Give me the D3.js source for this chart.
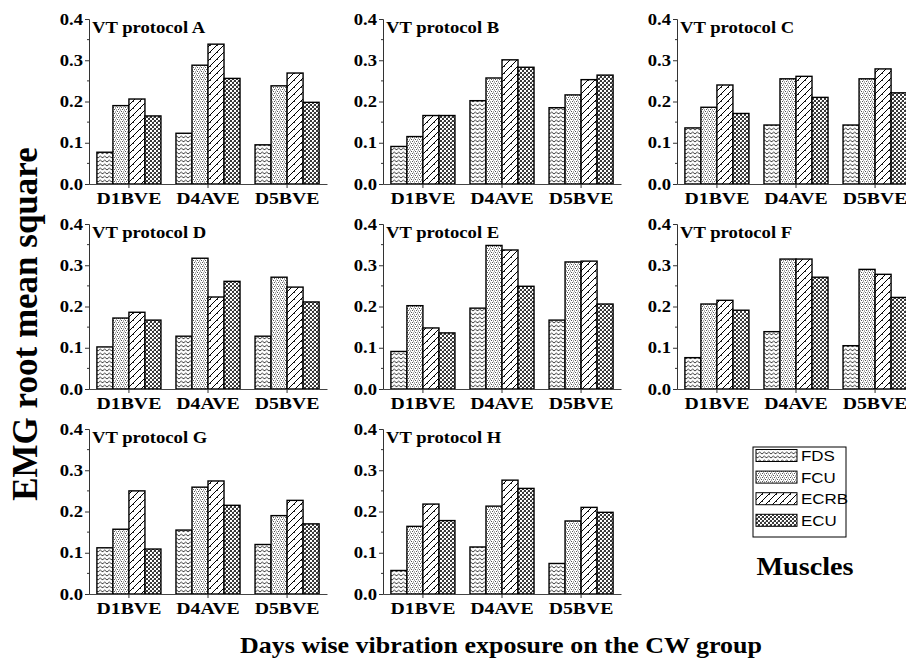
<!DOCTYPE html>
<html>
<head>
<meta charset="utf-8">
<script src="https://cdn.jsdelivr.net/npm/d3@7"></script>
<style>
  body { margin: 0; background: #fff; }
  svg { display: block; background: #fff; }
  .serif { font-family: 'Liberation Serif', 'Times New Roman', serif; font-weight: bold; fill: #000; }
  .sans { font-family: 'Liberation Sans', Arial, sans-serif; fill: #000; }
</style>
</head>
<body>
<svg width="906" height="666"></svg>
<script>
// categories
const groups = ['D1BVE', 'D4AVE', 'D5BVE'];
const muscles = ['FDS', 'FCU', 'ECRB', 'ECU'];
const yTicks = [0, 0.1, 0.2, 0.3, 0.4];

// values per protocol: [D1BVE, D4AVE, D5BVE], each [FDS, FCU, ECRB, ECU]
const protocolA = [[0.077, 0.190, 0.206, 0.165], [0.123, 0.288, 0.339, 0.256], [0.095, 0.238, 0.269, 0.198]];
const protocolB = [[0.091, 0.115, 0.166, 0.166], [0.202, 0.257, 0.301, 0.283], [0.185, 0.216, 0.253, 0.264]];
const protocolC = [[0.136, 0.186, 0.240, 0.171], [0.143, 0.255, 0.261, 0.210], [0.143, 0.255, 0.279, 0.221]];
const protocolD = [[0.102, 0.172, 0.186, 0.167], [0.128, 0.317, 0.223, 0.261], [0.128, 0.271, 0.247, 0.211]];
const protocolE = [[0.091, 0.202, 0.148, 0.136], [0.196, 0.348, 0.337, 0.249], [0.167, 0.308, 0.310, 0.206]];
const protocolF = [[0.076, 0.206, 0.215, 0.191], [0.139, 0.315, 0.315, 0.271], [0.105, 0.290, 0.278, 0.222]];
const protocolG = [[0.112, 0.157, 0.250, 0.109], [0.155, 0.259, 0.274, 0.215], [0.120, 0.190, 0.227, 0.170]];
const protocolH = [[0.057, 0.164, 0.218, 0.178], [0.114, 0.213, 0.276, 0.256], [0.074, 0.177, 0.210, 0.198]];

const panels = [
  { name: 'VT protocol A', values: protocolA },
  { name: 'VT protocol B', values: protocolB },
  { name: 'VT protocol C', values: protocolC },
  { name: 'VT protocol D', values: protocolD },
  { name: 'VT protocol E', values: protocolE },
  { name: 'VT protocol F', values: protocolF },
  { name: 'VT protocol G', values: protocolG },
  { name: 'VT protocol H', values: protocolH }
];

const svg = d3.select('svg');
const sx = 1.13; // the original is stretched horizontally a bit

// patterns
const defs = svg.append('defs');
const pat = (id, w, h) => defs.append('pattern')
  .attr('id', id).attr('patternUnits', 'userSpaceOnUse')
  .attr('width', w).attr('height', h);

// FDS: horizontal zigzag
const pFDS = pat('pFDS', 4.5, 4);
pFDS.append('rect').attr('width', 4.5).attr('height', 4).attr('fill', '#fff');
pFDS.append('path').attr('d', 'M0,3 L2.25,1 L4.5,3').attr('fill', 'none').attr('stroke', '#111').attr('stroke-width', 0.8);

// FCU: dots
const pFCU = pat('pFCU', 4, 4);
pFCU.append('rect').attr('width', 4).attr('height', 4).attr('fill', '#fff');
[[0, 0], [2, 0.5], [1, 2], [3, 2.5]].forEach(([a, b]) =>
  pFCU.append('rect').attr('x', a).attr('y', b).attr('width', 1).attr('height', 1).attr('fill', '#555'));

// ECRB: diagonal lines
const pECRB = pat('pECRB', 7, 7);
pECRB.append('rect').attr('width', 7).attr('height', 7).attr('fill', '#fff');
pECRB.append('path').attr('d', 'M-1,8 L8,-1 M-1,1 L1,-1 M6,8 L8,6').attr('stroke', '#000').attr('stroke-width', 1);
pECRB.append('path').attr('d', 'M2,5 L3,6').attr('stroke', '#000').attr('stroke-width', 0.8);

// ECU: herringbone, darker grey
const pECU = pat('pECU', 4, 4);
pECU.append('rect').attr('width', 4).attr('height', 4).attr('fill', '#fff');
pECU.append('path').attr('d', 'M0,0 L2,2 L4,0 M0,4 L2,2 L4,4').attr('fill', 'none').attr('stroke', '#222').attr('stroke-width', 0.9);
pECU.append('path').attr('d', 'M0,2 L1,3').attr('fill', 'none').attr('stroke', '#666').attr('stroke-width', 0.5);

const fills = { FDS: 'url(#pFDS)', FCU: 'url(#pFCU)', ECRB: 'url(#pECRB)', ECU: 'url(#pECU)' };

// layout
const colX = [89, 383, 677];
const rowY = [19, 224, 429];
const pw = 238, ph = 165;

const x0 = d3.scaleBand().domain(groups).range([0, pw]).paddingInner(0.19).paddingOuter(0.1);
const x1 = d3.scaleBand().domain(muscles).range([0, x0.bandwidth()]);
const y = d3.scaleLinear().domain([0, 0.4]).range([ph, 0]);

const stext = (sel, x, yy, txt, size, anchor, cls) => sel.append('text')
  .attr('class', cls || 'serif')
  .attr('transform', `translate(${x},${yy}) scale(${sx},1)`)
  .attr('text-anchor', anchor || 'start')
  .attr('font-size', size)
  .text(txt);

panels.forEach((p, i) => {
  const g = svg.append('g')
    .attr('transform', `translate(${colX[i % 3]},${rowY[Math.floor(i / 3)]})`);

  // bars
  groups.forEach((grp, gi) => {
    g.selectAll(null).data(p.values[gi]).enter().append('rect')
      .attr('x', (d, mi) => x0(grp) + x1(muscles[mi]))
      .attr('y', d => y(d))
      .attr('width', x1.bandwidth())
      .attr('height', d => ph - y(d))
      .attr('fill', (d, mi) => fills[muscles[mi]])
      .attr('stroke', '#000')
      .attr('stroke-width', 1.4);
  });

  // y axis
  const yAxis = d3.axisLeft(y).tickValues(yTicks).tickFormat(d3.format('.1f')).tickSize(4).tickPadding(4);
  const yG = g.append('g').call(yAxis);
  yG.select('.domain').attr('stroke', '#333');
  yG.selectAll('.tick line').attr('stroke', '#333');
  yG.selectAll('.tick text').remove();
  yTicks.forEach(t => stext(g, -6, y(t) + 5.7, d3.format('.1f')(t), 16.5, 'end'));
  // minor ticks
  g.selectAll(null).data([0.05, 0.15, 0.25, 0.35]).enter().append('line')
    .attr('x1', -2).attr('x2', 0)
    .attr('y1', d => y(d)).attr('y2', d => y(d))
    .attr('stroke', '#333');

  // x axis
  const xAxis = d3.axisBottom(x0).tickSize(4).tickSizeOuter(0);
  const xG = g.append('g').attr('transform', `translate(0,${ph})`).call(xAxis);
  xG.select('.domain').attr('stroke', '#444');
  xG.selectAll('.tick line').attr('stroke', '#333');
  xG.selectAll('.tick text').remove();
  groups.forEach(grp => stext(g, x0(grp) + x0.bandwidth() / 2, ph + 20, grp, 17.5, 'middle'));

  // title
  stext(g, 3, 14, p.name, 16.5, 'start');
});

// legend
const lg = svg.append('g').attr('transform', 'translate(753,447)');
lg.append('rect').attr('width', 93).attr('height', 90)
  .attr('fill', '#fff').attr('stroke', '#000').attr('stroke-width', 1);
muscles.forEach((m, i) => {
  lg.append('rect')
    .attr('x', 3).attr('y', 2.5 + i * 21.6)
    .attr('width', 41).attr('height', 12)
    .attr('fill', fills[m]).attr('stroke', '#000').attr('stroke-width', 1);
  stext(lg, 48, 14 + i * 21.6, m, 15, 'start', 'sans');
});
stext(svg, 805, 575, 'Muscles', 25, 'middle');

// axis titles
stext(svg, 501, 653, 'Days wise vibration exposure on the CW group', 23, 'middle');
svg.append('text')
  .attr('class', 'serif')
  .attr('transform', 'translate(37,324) rotate(-90)')
  .attr('text-anchor', 'middle')
  .attr('font-size', 35)
  .text('EMG root mean square');
</script>
</body>
</html>
